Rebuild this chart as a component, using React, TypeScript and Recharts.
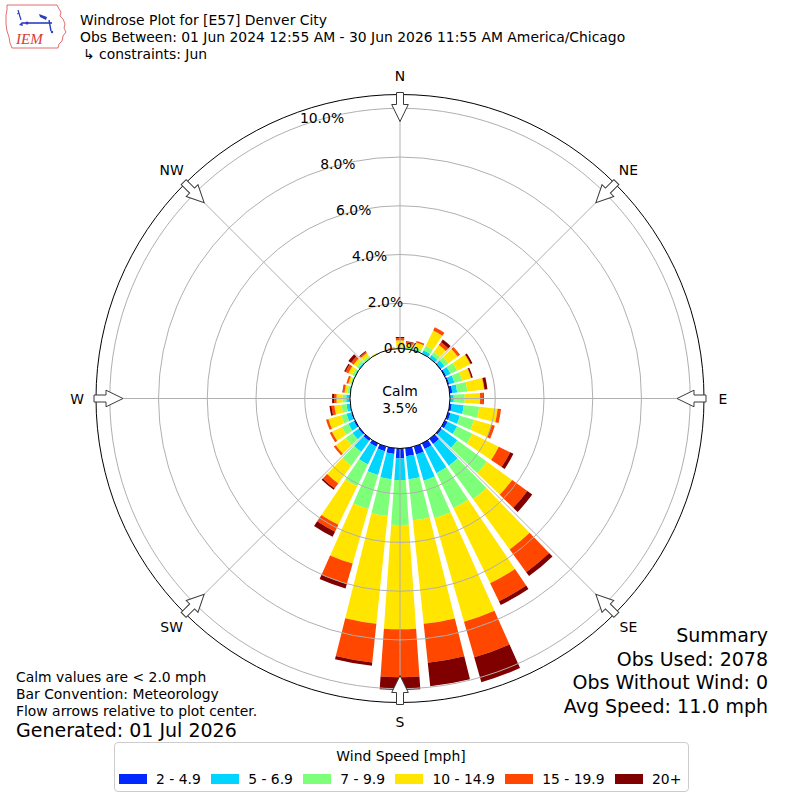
import React from 'react';
import {
  RadialBarChart,
  RadialBar,
  RadarChart,
  PolarAngleAxis,
  PolarRadiusAxis,
  PolarGrid,
} from 'recharts';

// ---------------- data ----------------
const DIRECTIONS = [0, 10, 20, 30, 40, 50, 60, 70, 80, 90, 100, 110, 120, 130, 140, 150, 160, 170,
  180, 190, 200, 210, 220, 230, 240, 250, 260, 270, 280, 290, 300, 310, 320, 330, 340, 350];

const SPEED_BINS = ['2 - 4.9', '5 - 6.9', '7 - 9.9', '10 - 14.9', '15 - 19.9', '20+'];
const BIN_COLORS = ['#0028ff', '#00d4ff', '#7dff7a', '#ffe500', '#ff4700', '#800000'];

// percent of observations per direction and speed bin
const BIN_2_5 = [0.06, 0.07, 0.10, 0.15, 0.15, 0.18, 0.20, 0.20, 0.25, 0.12, 0.23, 0.25, 0.27, 0.22, 0.40, 0.40, 0.48, 0.47,
  0.55, 0.38, 0.34, 0.30, 0.25, 0.20, 0.20, 0.18, 0.15, 0.15, 0.10, 0.08, 0.10, 0.10, 0.08, 0.04, 0.03, 0.04];
const BIN_5_7 = [0.07, 0.08, 0.08, 0.15, 0.15, 0.17, 0.20, 0.22, 0.20, 0.18, 0.49, 0.40, 0.43, 0.78, 1.10, 1.10, 1.12, 0.95,
  0.89, 1.04, 1.02, 0.80, 0.55, 0.30, 0.25, 0.20, 0.15, 0.15, 0.08, 0.07, 0.08, 0.10, 0.07, 0.04, 0.03, 0.04];
const BIN_7_10 = [0.10, 0.07, 0.10, 0.20, 0.15, 0.20, 0.30, 0.33, 0.42, 0.45, 0.64, 0.60, 0.70, 1.50, 1.70, 1.60, 1.60, 1.70,
  1.84, 1.52, 1.45, 1.00, 0.70, 0.35, 0.30, 0.22, 0.20, 0.15, 0.08, 0.07, 0.10, 0.10, 0.10, 0.04, 0.02, 0.04];
const BIN_10_15 = [0.25, 0.13, 0.20, 0.70, 0.35, 0.47, 0.60, 0.37, 0.69, 0.63, 0.76, 0.75, 1.20, 1.28, 2.55, 3.43, 4.42, 4.27,
  4.28, 4.44, 2.33, 1.76, 0.90, 0.50, 0.45, 0.55, 0.30, 0.25, 0.12, 0.08, 0.17, 0.15, 0.15, 0.07, 0.04, 0.06];
const BIN_15_20 = [0.09, 0.07, 0.07, 0.15, 0.15, 0.12, 0.02, 0.02, 0.02, 0.12, 0.14, 0.14, 0.52, 0.77, 1.15, 0.82, 1.52, 1.60,
  1.97, 1.60, 0.87, 0.31, 0.25, 0.10, 0.10, 0.10, 0.12, 0.10, 0.07, 0.08, 0.13, 0.13, 0.06, 0.00, 0.00, 0.02];
const BIN_20_UP = [0.05, 0.03, 0.00, 0.00, 0.13, 0.00, 0.08, 0.06, 0.12, 0.03, 0.00, 0.00, 0.15, 0.25, 0.20, 0.17, 1.06, 0.97,
  0.52, 0.14, 0.19, 0.23, 0.07, 0.00, 0.00, 0.00, 0.08, 0.08, 0.02, 0.00, 0.06, 0.13, 0.04, 0.00, 0.00, 0.00];

const BIN_SERIES = [BIN_2_5, BIN_5_7, BIN_7_10, BIN_10_15, BIN_15_20, BIN_20_UP];

const RADIUS_TICKS = [0, 2, 4, 6, 8, 10];
const RADIUS_MAX = 11;
const COMPASS_LABELS = ['N', 'NE', 'E', 'SE', 'S', 'SW', 'W', 'NW'];

const CALM_TEXT = ['Calm', '3.5%'];
const TITLE_LINES = [
  'Windrose Plot for [E57] Denver City',
  'Obs Between: 01 Jun 2024 12:55 AM - 30 Jun 2026 11:55 AM America/Chicago',
  '\u21b3 constraints: Jun',
];
const NOTE_LINES = ['Calm values are < 2.0 mph', 'Bar Convention: Meteorology', 'Flow arrows relative to plot center.'];
const GENERATED = 'Generated: 01 Jul 2026';
const SUMMARY_LINES = ['Summary', 'Obs Used: 2078', 'Obs Without Wind: 0', 'Avg Speed: 11.0 mph'];
const LEGEND_TITLE = 'Wind Speed [mph]';

const roseData = DIRECTIONS.map((dir, i) => {
  const row: Record<string, number> = { dir };
  BIN_SERIES.forEach((s, k) => {
    row['b' + k] = s[i];
  });
  return row;
});
const compassData = COMPASS_LABELS.map((label) => ({ label }));

// ---------------- layout ----------------
const CX = 400;
const CY = 398.5;
const R_INNER = 46.5;
const R_SCALE_OUTER = 314.6; // radius where RADIUS_MAX lands
const R_FRAME = 304;
const CALM_R = 50;
const FONT = '"DejaVu Sans", Verdana, sans-serif';
const FS = 13.9;
const FS_BIG = 19;

const layer: React.CSSProperties = { position: 'absolute', left: 0, top: 0, pointerEvents: 'none' };

const roseChartProps = {
  width: 800,
  height: 800,
  data: roseData,
  layout: 'centric' as const,
  cx: CX,
  cy: CY,
  innerRadius: R_INNER,
  outerRadius: R_SCALE_OUTER,
  startAngle: 85,
  endAngle: -275,
  barCategoryGap: '10%',
  margin: { top: 0, right: 0, bottom: 0, left: 0 },
};

const CompassTick = (props: any) => {
  const { x, y, payload } = props;
  const label = payload.value;
  if (COMPASS_LABELS.indexOf(label) < 0) return null;
  const angle = Number(payload.coordinate);
  const rot = 90 - angle;
  return (
    <g>
      <g transform={`translate(${x},${y}) rotate(${rot})`}>
        <polygon
          points="-3.5,17 3.5,17 3.5,29 8.3,29 0,46 -8.3,29 -3.5,29"
          fill="#ffffff"
          stroke="#3a3a3a"
          strokeWidth={1}
        />
      </g>
      <text x={x} y={y} textAnchor="middle" dominantBaseline="central" fontSize={FS} fontFamily={FONT} fill="#000">
        {label}
      </text>
    </g>
  );
};

const RadiusTick = (props: any) => {
  const { x, y, payload } = props;
  return (
    <text x={x + 16.5} y={y - 6.5} textAnchor="middle" dominantBaseline="central" fontSize={FS} fontFamily={FONT} fill="#000">
      {Number(payload.value).toFixed(1)}%
    </text>
  );
};

const Logo = () => (
  <g>
    <path
      d="M7,5 L57,5 L59,9 L61,12 L60,16 L63,19 L65,24 L64,28 L66,32 L63,36 L62,41 L59,44 L58,48 L12,48 L10,43 L9,37 L7,31 L6,24 L6,15 L7,10 Z"
      fill="#ffffff"
      stroke="#d84a4a"
      strokeWidth={0.8}
    />
    <line x1={18} y1={10} x2={21} y2={20} stroke="#2a3fbf" strokeWidth={1.2} />
    <line x1={17} y1={14} x2={19} y2={13} stroke="#2a3fbf" strokeWidth={1} />
    <polygon points="19,25 22,22 23,26" fill="#2a3fbf" />
    <line x1={22} y1={23} x2={52} y2={23} stroke="#2a3fbf" strokeWidth={1.6} />
    <circle cx={27} cy={23} r={1.6} fill="#2a3fbf" />
    <polygon points="39,14 47,17 46,20 40,17" fill="#2a3fbf" />
    <line x1={49} y1={20} x2={51} y2={31} stroke="#2a3fbf" strokeWidth={1.4} />
    <circle cx={52} cy={32} r={1.2} fill="#2a3fbf" />
    <text x={16} y={44} fontFamily='"Liberation Serif", serif' fontStyle="italic" fontSize={15} fill="#d83a3a">
      IEM
    </text>
  </g>
);

// invisible series so that the overlay charts compute their polar axes
const GhostBars = () => null;

export default function App() {
  const ghost = (
    <RadialBar
      dataKey="b0"
      stackId="ghost"
      fill="none"
      fillOpacity={0}
      stroke="none"
      isAnimationActive={false}
      legendType="none"
    />
  );
  return (
    <div
      style={{
        position: 'absolute',
        left: 0,
        top: 0,
        width: 800,
        height: 800,
        background: '#ffffff',
        fontFamily: FONT,
        overflow: 'hidden',
      }}
    >
      {/* bars */}
      <div style={layer}>
        <RadialBarChart {...roseChartProps}>
          <PolarAngleAxis dataKey="dir" type="category" tick={false} tickLine={false} axisLine={false} />
          <PolarRadiusAxis
            type="number"
            domain={[0, RADIUS_MAX]}
            ticks={RADIUS_TICKS}
            angle={109}
            axisLine={false}
            tickLine={false}
            tick={false}
          />
          {SPEED_BINS.map((name, k) => (
            <RadialBar
              key={name}
              dataKey={'b' + k}
              name={name}
              stackId="rose"
              fill={BIN_COLORS[k]}
              isAnimationActive={false}
            />
          ))}
        </RadialBarChart>
      </div>

      {/* percentage rings drawn over the bars */}
      <div style={layer}>
        <RadialBarChart {...roseChartProps}>
          <PolarAngleAxis dataKey="dir" type="category" tick={false} tickLine={false} axisLine={false} />
          <PolarRadiusAxis
            type="number"
            domain={[0, RADIUS_MAX]}
            ticks={RADIUS_TICKS}
            angle={109}
            axisLine={false}
            tickLine={false}
            tick={false}
          />
          {ghost}
          <PolarGrid gridType="circle" polarAngles={[]} stroke="#b0b0b0" strokeWidth={1} />
        </RadialBarChart>
      </div>

      {/* compass spokes, frame and flow arrows */}
      <div style={layer}>
        <RadarChart
          width={800}
          height={800}
          data={compassData}
          cx={CX}
          cy={CY}
          innerRadius={0}
          outerRadius={R_FRAME}
          startAngle={90}
          endAngle={-270}
          margin={{ top: 0, right: 0, bottom: 0, left: 0 }}
        >
          <PolarGrid gridType="circle" polarRadius={[]} stroke="#b0b0b0" strokeWidth={1} />
          <PolarAngleAxis
            dataKey="label"
            type="category"
            tick={<CompassTick />}
            tickLine={false}
            tickSize={19}
            axisLineType="circle"
            axisLine={{ stroke: '#000000', strokeWidth: 1 }}
          />
        </RadarChart>
      </div>

      <svg width={800} height={800} style={layer}>
        <Logo />
        {TITLE_LINES.map((t, i) => (
          <text
            key={t}
            x={i === 2 ? 83 : 80}
            y={20 + i * 16.8}
            dominantBaseline="central"
            fontSize={FS}
            fontFamily={FONT}
            fill="#000"
          >
            {t}
          </text>
        ))}
        <circle cx={CX} cy={CY} r={CALM_R} fill="#ffffff" stroke="#000000" strokeWidth={1} />
        <text x={CX} y={CY - 8} textAnchor="middle" dominantBaseline="central" fontSize={FS} fontFamily={FONT}>
          {CALM_TEXT[0]}
        </text>
        <text x={CX} y={CY + 9} textAnchor="middle" dominantBaseline="central" fontSize={FS} fontFamily={FONT}>
          {CALM_TEXT[1]}
        </text>
        {NOTE_LINES.map((t, i) => (
          <text key={t} x={16} y={677 + i * 17} dominantBaseline="central" fontSize={FS} fontFamily={FONT}>
            {t}
          </text>
        ))}
        <text x={16} y={730} dominantBaseline="central" fontSize={FS_BIG} fontFamily={FONT}>
          {GENERATED}
        </text>
        {SUMMARY_LINES.map((t, i) => (
          <text
            key={t}
            x={768}
            y={635 + i * 23.7}
            textAnchor="end"
            dominantBaseline="central"
            fontSize={FS_BIG}
            fontFamily={FONT}
          >
            {t}
          </text>
        ))}
      </svg>

      {/* percentage labels on top */}
      <div style={layer}>
        <RadialBarChart {...roseChartProps}>
          <PolarAngleAxis dataKey="dir" type="category" tick={false} tickLine={false} axisLine={false} />
          <PolarRadiusAxis
            type="number"
            domain={[0, RADIUS_MAX]}
            ticks={RADIUS_TICKS}
            angle={109}
            axisLine={false}
            tickLine={false}
            tick={<RadiusTick />}
          />
          {ghost}
        </RadialBarChart>
      </div>

      <div
        style={{
          position: 'absolute',
          left: 113.5,
          top: 741.5,
          width: 575,
          height: 50,
          boxSizing: 'border-box',
          border: '1px solid #cccccc',
          borderRadius: 4,
          background: '#ffffff',
          fontFamily: FONT,
          fontSize: FS,
          color: '#000',
        }}
      >
        <div
          style={{
            position: 'absolute',
            left: 0,
            right: 0,
            top: 13.2 - 9,
            height: 18,
            lineHeight: '18px',
            textAlign: 'center',
          }}
        >
          {LEGEND_TITLE}
        </div>
        <div
          style={{
            position: 'absolute',
            left: 4.5,
            right: 6.2,
            top: 36.5 - 9,
            height: 18,
            display: 'flex',
            justifyContent: 'space-between',
            alignItems: 'center',
          }}
        >
          {SPEED_BINS.map((name, k) => (
            <div key={name} style={{ display: 'flex', alignItems: 'center', whiteSpace: 'nowrap' }}>
              <div style={{ width: 28, height: 9.5, background: BIN_COLORS[k], marginRight: 9 }} />
              <span style={{ lineHeight: '18px' }}>{name}</span>
            </div>
          ))}
        </div>
      </div>
    </div>
  );
}
